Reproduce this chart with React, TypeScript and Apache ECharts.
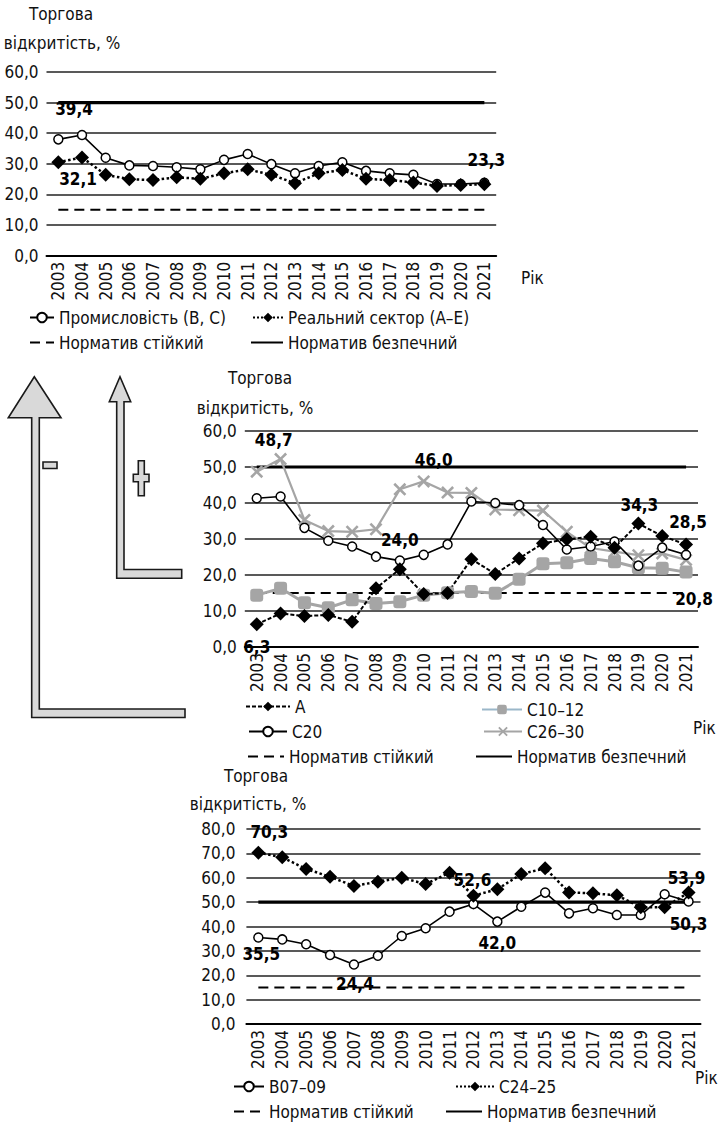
import React, { useEffect, useRef } from 'react';
import * as echarts from 'echarts';

const years = ['2003', '2004', '2005', '2006', '2007', '2008', '2009', '2010', '2011', '2012', '2013', '2014', '2015', '2016', '2017', '2018', '2019', '2020', '2021'];

// Top chart
const industry = [38.0, 39.4, 32.0, 29.5, 29.3, 28.9, 28.2, 31.3, 33.2, 29.9, 26.9, 29.3, 30.5, 27.7, 26.9, 26.4, 23.4, 23.4, 23.8];
const realSector = [30.5, 32.1, 26.4, 25.0, 24.7, 25.6, 25.1, 26.9, 28.2, 26.4, 23.7, 26.9, 28.0, 25.1, 24.7, 23.9, 22.8, 23.1, 23.3];

// Middle chart
const sectorA = [6.3, 9.3, 8.6, 8.9, 7.0, 16.3, 21.6, 14.7, 15.0, 24.4, 20.3, 24.6, 28.8, 29.9, 30.6, 27.6, 34.3, 30.8, 28.5];
const c1012 = [14.4, 16.3, 12.3, 10.9, 13.1, 12.1, 12.6, 14.4, 15.1, 15.4, 14.9, 18.8, 23.1, 23.4, 24.6, 23.7, 22.0, 21.9, 20.8];
const c20 = [41.3, 41.8, 33.1, 29.5, 27.9, 25.1, 24.0, 25.6, 28.5, 40.4, 40.0, 39.4, 33.9, 27.1, 27.9, 29.3, 22.6, 27.6, 25.6];
const c2630 = [48.7, 52.2, 35.3, 32.2, 32.0, 32.7, 43.8, 46.0, 42.9, 42.8, 38.2, 38.0, 37.9, 32.0, 27.5, 26.5, 25.5, 26.0, 24.2];

// Bottom chart
const b0709 = [35.5, 34.7, 32.7, 28.3, 24.4, 28.0, 36.1, 39.3, 46.1, 49.2, 42.0, 48.1, 53.9, 45.4, 47.5, 44.7, 44.7, 53.2, 50.3];
const c2425 = [70.3, 68.4, 63.6, 60.4, 56.6, 58.4, 60.0, 57.4, 62.1, 52.6, 55.3, 61.5, 63.9, 54.0, 53.6, 52.8, 47.9, 47.9, 53.9];

// Normatives
const normStable = 15;
const normSafe = 50;

const yMaxTop = 60;
const yMaxMid = 60;
const yMaxBottom = 80;

const FONT = "'DejaVu Sans Condensed', 'Liberation Sans Narrow', 'Liberation Sans', sans-serif";
const FS = 17;
const fmt = (v: number) => v.toFixed(1).replace('.', ',');

type LabelSpec = { [idx: number]: [string, number, number] };

function withLabels(values: number[], labels: LabelSpec) {
  return values.map((v, i) => {
    const l = labels[i];
    if (!l) return v;
    return {
      value: v,
      label: {
        show: true,
        position: l[0],
        offset: [l[1], l[2]],
        formatter: (p: any) => fmt(p.value),
        fontWeight: 'bold',
        fontSize: FS,
        color: '#000',
        fontFamily: FONT,
      },
    };
  });
}

const crossPath = 'path://M0,1.4L1.4,0L5,3.6L8.6,0L10,1.4L6.4,5L10,8.6L8.6,10L5,6.4L1.4,10L0,8.6L3.6,5Z';

const circleS = {
  symbol: 'circle',
  symbolSize: 9,
  itemStyle: { color: '#fff', borderColor: '#000', borderWidth: 1.5 },
  lineStyle: { color: '#000', width: 1.6 },
};
const diamondDotted = {
  symbol: 'diamond',
  symbolSize: 14,
  itemStyle: { color: '#000' },
  lineStyle: { color: '#000', width: 2.5, type: 'dotted' },
};
const diamondDashed = {
  symbol: 'diamond',
  symbolSize: 14,
  itemStyle: { color: '#000' },
  lineStyle: { color: '#000', width: 2, type: [4, 2] },
};
const squareS = {
  symbol: 'roundRect',
  symbolSize: 13,
  itemStyle: { color: '#a5a5a5' },
  lineStyle: { color: '#a5a5a5', width: 3 },
};
const crossS = {
  symbol: crossPath,
  symbolSize: 13,
  itemStyle: { color: '#a5a5a5' },
  lineStyle: { color: '#a5a5a5', width: 2.2 },
};

function dataSeries(name: string, g: number, data: any[], style: any) {
  return { type: 'line', name, xAxisIndex: g, yAxisIndex: g, data, z: 4, ...style };
}
function normSeries(g: number) {
  return [
    {
      type: 'line', name: 'Норматив стійкий', xAxisIndex: g, yAxisIndex: g, z: 2,
      data: years.map(() => normStable), symbol: 'none', color: '#000',
      itemStyle: { color: '#000', opacity: 0 },
      lineStyle: { color: '#000', width: 2, type: [10, 6] },
    },
    {
      type: 'line', name: 'Норматив безпечний', xAxisIndex: g, yAxisIndex: g, z: 2,
      data: years.map(() => normSafe), symbol: 'none', color: '#000',
      itemStyle: { color: '#000', opacity: 0 },
      lineStyle: { color: '#000', width: 3.2 },
    },
  ];
}

function leg(name: any, left: number, top: number, w: number) {
  return {
    data: [name],
    left,
    top: top - 10,
    itemWidth: w,
    itemHeight: 12,
    padding: 0,
    selectedMode: false,
    textStyle: { fontSize: FS, color: '#111', fontFamily: FONT },
  };
}
const normItem = (name: string) => ({ name, itemStyle: { opacity: 0 } });

function txt(text: string, x: number, y: number, align = 'left') {
  return {
    type: 'text', x, y, z: 10,
    style: { text, fontSize: FS, fontFamily: FONT, fill: '#111', textAlign: align, textVerticalAlign: 'middle' },
  };
}

const arrowStyle = { fill: '#d9d9d9', stroke: '#1a1a1a', lineWidth: 1.6 };

export default function App() {
  const ref = useRef<HTMLDivElement>(null);
  useEffect(() => {
    if (!ref.current) return;
    const chart = echarts.init(ref.current, null, { renderer: 'svg' });

    const grids = [
      { left: 46.5, top: 72, width: 449.7, height: 183.7 },
      { left: 244.8, top: 431, width: 453.2, height: 216 },
      { left: 246.4, top: 829, width: 454.1, height: 195 },
    ];
    const maxes = [yMaxTop, yMaxMid, yMaxBottom];
    const margins = [8, 8, 11];

    const option: any = {
      animation: false,
      textStyle: { fontFamily: FONT },
      grid: grids,
      xAxis: grids.map((_, i) => ({
        type: 'category',
        gridIndex: i,
        data: years,
        boundaryGap: true,
        axisTick: { show: false },
        axisLine: { lineStyle: { color: '#000', width: 2 } },
        axisLabel: { rotate: 90, interval: 0, fontSize: FS, color: '#111', margin: 6, fontFamily: FONT },
        splitLine: { show: false },
      })),
      yAxis: grids.map((_, i) => ({
        type: 'value',
        gridIndex: i,
        min: 0,
        max: maxes[i],
        interval: 10,
        axisLine: { show: false },
        axisTick: { show: false },
        axisLabel: { fontSize: FS, color: '#111', margin: margins[i], fontFamily: FONT, formatter: (v: number) => fmt(v) },
        splitLine: { lineStyle: { color: '#222', width: 1.5 } },
      })),
      legend: [
        leg('Промисловість (B, C)', 29, 319, 24),
        leg('Реальний сектор (A–E)', 252, 319, 30),
        leg(normItem('Норматив стійкий'), 29, 344, 24),
        leg(normItem('Норматив безпечний'), 250, 344, 32),

        leg('A', 245, 708, 44),
        leg({ name: 'C10–12', lineStyle: { color: '#9bb7c9' } }, 481, 711, 40),
        leg('C20', 248, 733, 38),
        leg('C26–30', 483, 733, 38),
        leg(normItem('Норматив стійкий'), 247, 758, 36),
        leg(normItem('Норматив безпечний'), 475, 758, 36),

        leg('B07–09', 233, 1088, 30),
        leg('C24–25', 455, 1088, 38),
        leg(normItem('Норматив стійкий'), 233, 1113, 30),
        leg(normItem('Норматив безпечний'), 445, 1113, 36),
      ],
      series: [
        ...normSeries(0),
        dataSeries('Промисловість (B, C)', 0, withLabels(industry, { 1: ['top', -8, -7] }), circleS),
        dataSeries('Реальний сектор (A–E)', 0, withLabels(realSector, { 1: ['bottom', -4, 1], 18: ['top', 2, -4] }), diamondDotted),

        ...normSeries(1),
        dataSeries('C10–12', 1, withLabels(c1012, { 18: ['bottom', 8, 7] }), squareS),
        dataSeries('C26–30', 1, withLabels(c2630, { 0: ['top', 17, -12], 7: ['top', 10, -1] }), crossS),
        dataSeries('C20', 1, withLabels(c20, { 6: ['top', 0, -2] }), circleS),
        dataSeries('A', 1, withLabels(sectorA, { 0: ['bottom', 0, 2], 16: ['top', 1, 2], 18: ['top', 2, -2] }), diamondDashed),

        ...normSeries(2),
        dataSeries('B07–09', 2, withLabels(b0709, { 0: ['bottom', 3, -2], 4: ['bottom', 1, 1], 10: ['bottom', 0, 3], 18: ['bottom', 0, 4] }), circleS),
        dataSeries('C24–25', 2, withLabels(c2425, { 0: ['top', 11, 0], 9: ['top', -1, 5], 18: ['top', -2, 6] }), diamondDotted),
      ],
      graphic: [
        // titles
        txt('Торгова', 61, 14, 'center'),
        txt('відкритість, %', 62, 43, 'center'),
        txt('Торгова', 260, 378, 'center'),
        txt('відкритість, %', 255, 408, 'center'),
        txt('Торгова', 256, 776, 'center'),
        txt('відкритість, %', 248, 804, 'center'),
        // axis names
        txt('Рік', 521, 278),
        txt('Рік', 693, 728),
        txt('Рік', 695, 1078),
        // big arrow
        {
          type: 'polygon', z: 1,
          shape: {
            points: [
              [34.3, 376.7], [61, 417.7], [39.3, 417.7], [39.3, 709], [185, 709], [185, 717.5],
              [31.7, 717.5], [31.7, 417.7], [8.3, 417.7],
            ],
          },
          style: arrowStyle,
        },
        // small arrow
        {
          type: 'polygon', z: 1,
          shape: {
            points: [
              [120, 376.7], [130.7, 401.7], [124, 401.7], [124, 569.5], [181.7, 569.5], [181.7, 578.3],
              [116.7, 578.3], [116.7, 401.7], [109.3, 401.7],
            ],
          },
          style: arrowStyle,
        },
        // minus sign
        { type: 'rect', z: 1, shape: { x: 43, y: 462, width: 14, height: 6.5 }, style: arrowStyle },
        // plus sign
        {
          type: 'polygon', z: 1,
          shape: {
            points: [
              [138.3, 460.7], [144.3, 460.7], [144.3, 474.3], [149, 474.3], [149, 481.7], [144.3, 481.7],
              [144.3, 495.7], [138.3, 495.7], [138.3, 481.7], [133.3, 481.7], [133.3, 474.3], [138.3, 474.3],
            ],
          },
          style: arrowStyle,
        },
      ],
    };
    chart.setOption(option);
    return () => chart.dispose();
  }, []);
  return <div ref={ref} style={{ position: 'absolute', left: 0, top: 0, width: 724, height: 1135, background: '#fff' }} />;
}
